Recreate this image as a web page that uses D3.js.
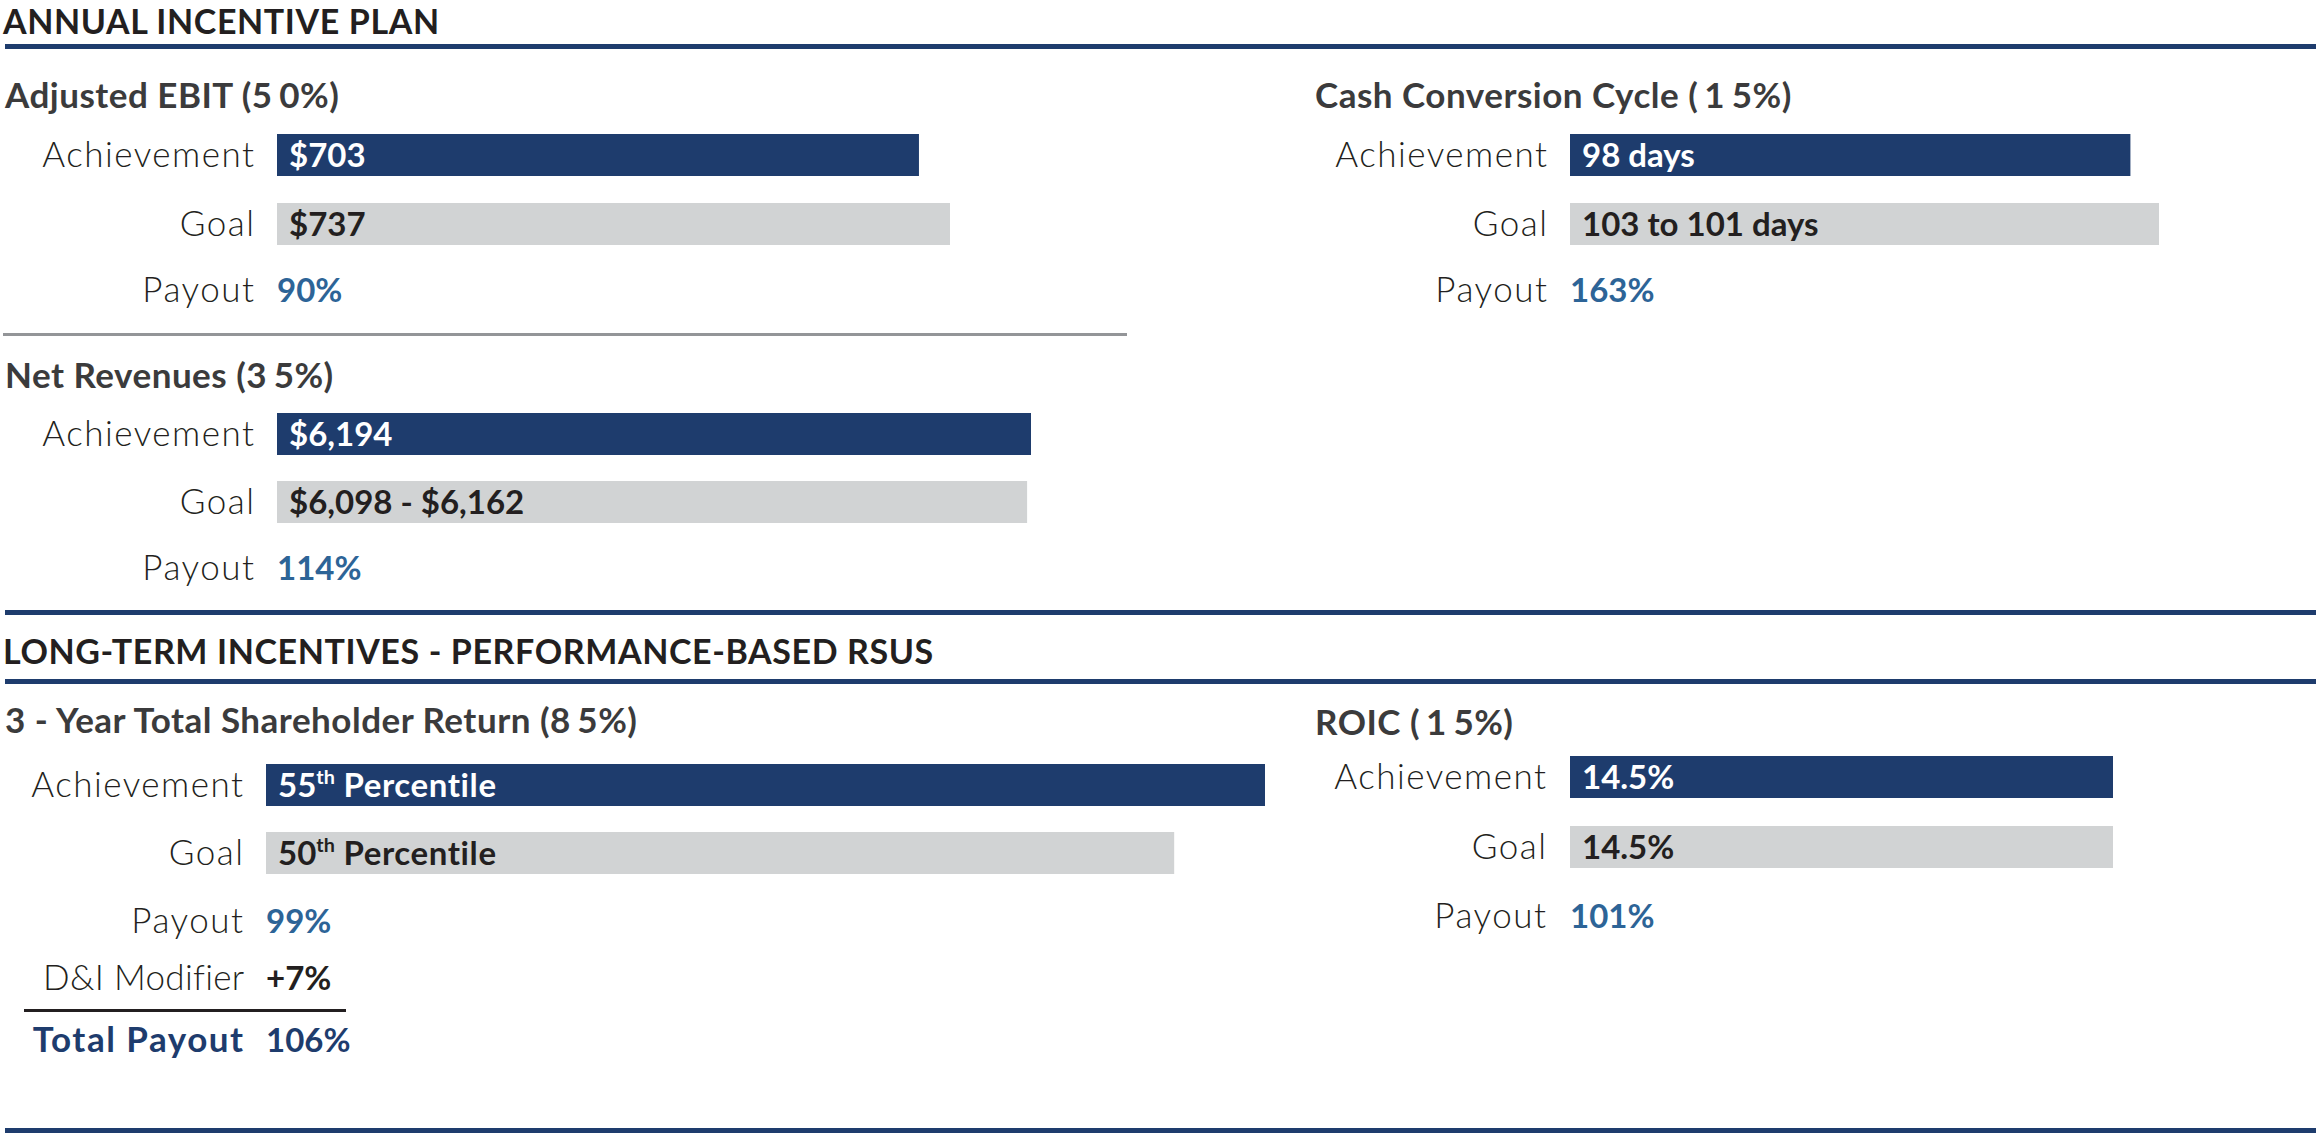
<!DOCTYPE html>
<html>
<head>
<meta charset="utf-8">
<script src="https://cdn.jsdelivr.net/npm/d3@7"></script>
<style>
	body { margin: 0; background: #fff; }
	text { font-family: Lato, "Open Sans", sans-serif; }
</style>
</head>
<body>
<svg class="theSvg" width="2316" height="1138"></svg>
<script>
// data
var sectionTitles = ["ANNUAL INCENTIVE PLAN", "LONG-TERM INCENTIVES - PERFORMANCE-BASED RSUS"];
var panelNames = ["Adjusted EBIT", "Net Revenues", "Cash Conversion Cycle", "3 - Year Total Shareholder Return", "ROIC"];
var panelWeights = ["50%", "35%", "15%", "85%", "15%"];
var achievementValues = [703, 6194, 98, 55, 14.5];
var goalValues = [737, 6162, 103, 50, 14.5];
var achievementLabels = ["$703", "$6,194", "98 days", "55th Percentile", "14.5%"];
var goalLabels = ["$737", "$6,098 - $6,162", "103 to 101 days", "50th Percentile", "14.5%"];
var payoutLabels = ["90%", "114%", "163%", "99%", "101%"];
var rowNames = ["Achievement", "Goal", "Payout"];
var modifierNames = ["D&I Modifier", "Total Payout"];
var modifierValues = ["+7%", "106%"];

// where each panel sits on the page
var layout = [
	{"x": 5, "titleY": 108, "labelX": 254, "barX": 277, "barMax": 673, "achY": 134, "goalY": 203, "payY": 302},
	{"x": 5, "titleY": 388, "labelX": 254, "barX": 277, "barMax": 754, "achY": 413, "goalY": 481, "payY": 580},
	{"x": 1315, "titleY": 108, "labelX": 1547, "barX": 1570, "barMax": 589, "achY": 134, "goalY": 203, "payY": 302},
	{"x": 5, "titleY": 733, "labelX": 243, "barX": 266, "barMax": 999, "achY": 764, "goalY": 832, "payY": 933},
	{"x": 1315, "titleY": 735, "labelX": 1546, "barX": 1570, "barMax": 543, "achY": 756, "goalY": 826, "payY": 928}
];

var navy = "#1e3c6d";
var grey = "#d1d3d4";
var blue = "#2d6497";
var ink = "#231f20";
var barH = 42;
var fontSize = 33;
var labelSize = 35;
var labelSpacing = 1.5;

var theSvg = d3.select(".theSvg");

// section rules and headings
var rules = [44, 610, 679, 1128];
theSvg.selectAll(".rule")
	.data(rules)
	.enter()
	.append("rect")
	.attr("class", "rule")
	.attr("x", 5)
	.attr("y", function(d){ return d;})
	.attr("width", 2311)
	.attr("height", 5)
	.attr("fill", navy);

theSvg.append("rect")
	.attr("x", 3)
	.attr("y", 333)
	.attr("width", 1124)
	.attr("height", 3)
	.attr("fill", "#939598");

theSvg.selectAll(".sectionTitle")
	.data(sectionTitles)
	.enter()
	.append("text")
	.attr("class", "sectionTitle")
	.attr("x", 3)
	.attr("y", function(d, i){ return i == 0 ? 34 : 664;})
	.attr("font-size", 34)
	.attr("font-weight", 700)
	.attr("letter-spacing", 0.6)
	.attr("fill", ink)
	.text(function(d){ return d;});

function addValueText(sel, label){
	// "55th Percentile" -> superscript th
	var m = label.match(/^(\d+)(th)(.*)$/);
	if (m){
		sel.append("tspan").text(m[1]);
		sel.append("tspan").attr("font-size", fontSize * 0.6).attr("dy", -13).text(m[2]);
		sel.append("tspan").attr("dy", 13).attr("letter-spacing", 0.6).text(m[3]);
	} else {
		sel.text(label);
	}
}

var panels = theSvg.selectAll(".panel")
	.data(panelNames)
	.enter()
	.append("g")
	.attr("class", "panel")
	.each(function(name, i){
		var g = d3.select(this);
		var L = layout[i];
		var x = d3.scaleLinear()
			.domain([0, d3.max([achievementValues[i], goalValues[i]])])
			.range([0, L.barMax]);

		var title = g.append("text")
			.attr("x", L.x)
			.attr("y", L.titleY)
			.attr("font-size", 35)
			.attr("font-weight", 700)
			.attr("letter-spacing", 0.5)
			.attr("fill", "#3b3b3c")
			.text(name + " (");
		// the weight is set loosely in the reference
		title.append("tspan")
			.attr("letter-spacing", 7)
			.attr("dx", panelWeights[i].charAt(0) == "1" ? 6 : 0)
			.text(panelWeights[i].charAt(0));
		title.append("tspan").text(panelWeights[i].slice(1) + ")");

		var rowY = [L.achY + barH/2, L.goalY + barH/2, L.payY - 12];
		g.selectAll(".rowLabel")
			.data(rowNames)
			.enter()
			.append("text")
			.attr("class", "rowLabel")
			.attr("x", L.labelX + labelSpacing)
			.attr("y", function(d, j){ return rowY[j] + 12;})
			.attr("text-anchor", "end")
			.attr("font-size", labelSize)
			.attr("font-weight", 300)
			.attr("letter-spacing", labelSpacing)
			.attr("fill", ink)
			.text(function(d){ return d;});

		g.append("rect")
			.attr("x", L.barX)
			.attr("y", L.achY)
			.attr("width", x(achievementValues[i]))
			.attr("height", barH)
			.attr("fill", navy);

		g.append("rect")
			.attr("x", L.barX)
			.attr("y", L.goalY)
			.attr("width", x(goalValues[i]))
			.attr("height", barH)
			.attr("fill", grey);

		addValueText(g.append("text")
			.attr("x", L.barX + 12)
			.attr("y", L.achY + barH/2 + 12)
			.attr("font-size", fontSize)
			.attr("font-weight", 700)
			.attr("fill", "#fff"), achievementLabels[i]);

		addValueText(g.append("text")
			.attr("x", L.barX + 12)
			.attr("y", L.goalY + barH/2 + 12)
			.attr("font-size", fontSize)
			.attr("font-weight", 700)
			.attr("fill", ink), goalLabels[i]);

		g.append("text")
			.attr("x", L.barX)
			.attr("y", L.payY)
			.attr("font-size", fontSize)
			.attr("font-weight", 700)
			.attr("fill", blue)
			.text(payoutLabels[i]);
	});

// TSR modifier and total payout
var tsr = layout[3];
var modY = [990, 1052];
theSvg.selectAll(".modifier")
	.data(modifierNames)
	.enter()
	.append("text")
	.attr("class", "modifier")
	.attr("x", tsr.labelX + labelSpacing)
	.attr("y", function(d, i){ return modY[i];})
	.attr("text-anchor", "end")
	.attr("font-size", labelSize)
	.attr("font-weight", function(d, i){ return i == 0 ? 300 : 700;})
	.attr("letter-spacing", function(d, i){ return i == 0 ? 0.3 : labelSpacing;})
	.attr("fill", function(d, i){ return i == 0 ? ink : navy;})
	.text(function(d){ return d;});

theSvg.selectAll(".modifierValue")
	.data(modifierValues)
	.enter()
	.append("text")
	.attr("class", "modifierValue")
	.attr("x", tsr.barX)
	.attr("y", function(d, i){ return modY[i];})
	.attr("font-size", fontSize)
	.attr("font-weight", 700)
	.attr("fill", function(d, i){ return i == 0 ? ink : navy;})
	.text(function(d){ return d;});

theSvg.append("rect")
	.attr("x", 24)
	.attr("y", 1009)
	.attr("width", 322)
	.attr("height", 3)
	.attr("fill", ink);
</script>
</body>
</html>
